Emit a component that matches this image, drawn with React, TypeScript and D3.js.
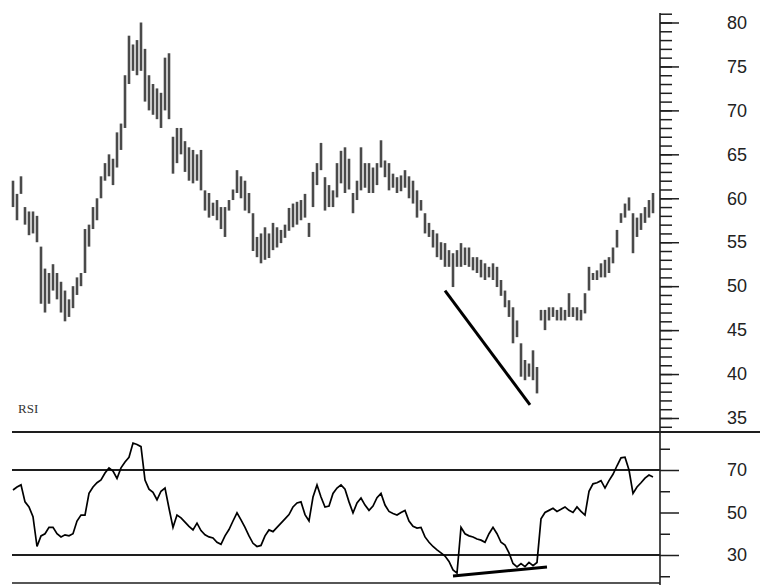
import * as React from "react"
import * as d3 from "d3"

// daily bars (one bar every ~4px)
const priceHigh = [
  62.0, 60.5, 62.5, 59.0, 58.5, 58.5, 58.0, 54.5, 52.0, 51.5,
  52.5, 51.5, 50.5, 49.5, 48.5, 50.0, 51.0, 51.5, 56.5, 57.0,
  59.0, 60.0, 62.5, 64.0, 65.0, 64.5, 67.5, 68.5, 74.0, 78.5,
  77.5, 78.0, 80.0, 77.0, 74.0, 73.0, 72.5, 72.0, 76.0, 76.5,
  67.0, 68.0, 68.0, 66.5, 65.8, 65.5, 65.0, 65.5, 60.9, 60.6,
  59.5, 59.8, 59.0, 59.0, 59.8, 61.0, 63.2, 62.5, 62.0, 60.6,
  58.3, 55.6, 56.0, 56.7, 56.0, 57.2, 56.7, 56.4, 57.0, 58.9,
  59.4, 59.6, 59.8, 60.5, 57.2, 63.0, 64.0, 66.3, 62.4, 61.5,
  60.9, 64.0, 65.4, 65.8, 64.5, 60.6, 62.0, 65.8, 64.0, 64.0,
  63.5, 64.0, 66.6, 64.3, 64.0, 62.8, 62.4, 62.6, 63.2, 62.5,
  62.0, 60.9, 59.8, 58.3, 57.2, 56.4, 56.0, 55.0, 54.9, 54.1,
  53.75, 54.1, 54.9, 54.4, 54.4, 53.3, 53.3, 53.0, 52.6, 52.2,
  52.6, 52.2, 50.7, 49.5, 48.4, 47.6, 46.1, 43.5, 41.6, 41.2,
  42.7, 40.8, 47.3, 47.3, 47.6, 47.6, 47.3, 47.6, 47.3, 49.2,
  47.6, 47.6, 47.3, 49.2, 52.2, 51.5, 51.8, 52.6, 53.0, 53.3,
  54.4, 56.4, 58.3, 59.4, 60.1, 58.3, 57.8, 58.3, 59.0, 59.8, 60.6,
]

const priceLow = [
  59.0, 57.5, 60.5, 57.0, 55.8, 56.0, 55.0, 48.0, 47.0, 48.0,
  49.5, 48.5, 47.0, 46.0, 46.5, 47.5, 49.0, 50.0, 51.5, 54.5,
  56.5, 57.5, 60.0, 62.0, 62.5, 61.5, 63.5, 65.5, 68.0, 73.0,
  74.5, 74.0, 74.5, 71.0, 70.0, 69.5, 69.0, 68.0, 70.0, 69.0,
  62.8, 64.0, 65.0, 63.0, 62.0, 61.7, 62.0, 60.9, 58.6, 57.8,
  58.0, 57.5, 56.5, 55.6, 58.6, 59.8, 60.6, 60.0, 58.6, 58.3,
  54.0, 53.3, 52.6, 53.0, 53.2, 54.1, 54.4, 54.9, 55.5, 56.3,
  56.7, 57.0, 57.5, 57.8, 55.6, 59.0, 61.5, 63.2, 58.6, 59.0,
  59.0, 60.1, 61.7, 60.6, 61.0, 58.3, 59.8, 60.9, 61.2, 60.6,
  60.6, 61.5, 63.5, 62.4, 60.9, 61.2, 60.6, 60.8, 61.2, 60.0,
  59.4, 57.8, 58.6, 56.0, 55.6, 54.4, 53.3, 53.0, 52.2, 52.2,
  49.9, 52.2, 52.2, 52.4, 52.2, 51.8, 51.5, 51.0, 50.7, 51.0,
  50.7, 49.9, 48.9, 47.6, 46.5, 43.5, 44.2, 39.7, 39.3, 39.7,
  39.3, 37.8, 46.1, 45.0, 46.1, 46.5, 46.1, 46.1, 46.1, 46.5,
  46.5, 46.1, 46.1, 46.9, 49.5, 50.7, 50.7, 51.0, 51.0, 51.5,
  52.6, 54.4, 57.2, 57.8, 58.6, 53.75, 55.6, 56.4, 57.2, 57.8, 58.3,
]

const rsiValues = [
  60.6, 62, 63, 55, 52.6, 48, 34, 39, 40, 43,
  43, 40, 38.5, 39.5, 39, 40, 46, 48.8, 48.8, 59,
  62, 64, 65.3, 68.6, 71, 69.5, 66, 71, 73.8, 76,
  82.7, 82, 81, 65.3, 61, 59.5, 56, 60, 61.5, 52,
  43, 48.8, 47.5, 45.5, 43.5, 41.8, 45, 41.5, 39.5, 38.5,
  38, 36, 35, 39, 42, 46, 49.8, 46.5, 43, 39,
  35.5, 34, 34.5, 39, 41.8, 41, 43, 45, 47, 49,
  52.6, 54.5, 55, 49, 46, 57.3, 63, 57.3, 52.6, 53,
  59, 61.5, 63, 61, 55, 49.8, 54.5, 56.8, 53.5, 51,
  53, 57, 59, 53.5, 50.5, 49.5, 48.8, 50, 51, 46,
  43.5, 42.7, 43, 38.5, 36, 34, 32.4, 31, 29.5, 27,
  23, 21.5, 43, 40, 39, 38.5, 37.5, 37, 36, 40,
  43, 40, 36, 34.7, 31, 26, 24.4, 26, 24.5, 26.5,
  25, 26.5, 47, 50, 51, 52, 50.5, 51.5, 52.6, 51,
  50, 52.6, 50.5, 48.8, 60, 63.5, 64, 65, 61.5, 65,
  68, 72, 75.7, 76, 70, 59, 62, 64, 66.2, 67.6, 66.7,
]

const priceTicks = [80, 75, 70, 65, 60, 55, 50, 45, 40, 35]
const priceMinorTicks = d3.range(34, 82)
const rsiTicks = [70, 50, 30]
const rsiMinorTicks = [80, 60, 40, 20]

// drawn trend lines (bar index, value)
const priceTrend: [number, number][] = [
  [108, 49.5],
  [129.25, 36.5],
]
const rsiTrend: [number, number][] = [
  [110, 20.1],
  [133.5, 24.4],
]

const ink = "#1e1e1e"

function render(svgRef: React.RefObject<SVGSVGElement>) {
  const width = 760
  const height = 585
  const axisX = 660
  const left = 12
  const priceTop = 13
  const split = 432
  const bottom = 583

  const svg = d3.select(svgRef.current).attr("width", width).attr("height", height)
  svg.selectAll("*").remove()

  const x = d3
    .scaleLinear()
    .domain([0, priceHigh.length - 1])
    .range([13, 653])
  const yPrice = d3.scaleLinear().domain([35, 80]).range([418, 22.5])
  const yRsi = d3.scaleLinear().domain([30, 70]).range([555, 470])

  // price bars
  svg
    .append("g")
    .selectAll("line")
    .data(priceHigh)
    .join("line")
    .attr("x1", (_d, i) => x(i))
    .attr("x2", (_d, i) => x(i))
    .attr("y1", (d) => yPrice(d))
    .attr("y2", (_d, i) => yPrice(priceLow[i]))
    .attr("stroke", "#4a4a4a")
    .attr("stroke-width", 2.6)

  // price trend line
  svg
    .append("path")
    .attr(
      "d",
      d3
        .line<[number, number]>()
        .x((d) => x(d[0]))
        .y((d) => yPrice(d[1]))(priceTrend)
    )
    .attr("stroke", "#000")
    .attr("stroke-width", 3)
    .attr("fill", "none")

  // panel frame lines
  svg
    .append("line")
    .attr("x1", left)
    .attr("x2", width)
    .attr("y1", split)
    .attr("y2", split)
    .attr("stroke", ink)
    .attr("stroke-width", 2)

  svg
    .append("g")
    .selectAll("line")
    .data([70, 30])
    .join("line")
    .attr("x1", left)
    .attr("x2", axisX)
    .attr("y1", (d) => yRsi(d))
    .attr("y2", (d) => yRsi(d))
    .attr("stroke", ink)
    .attr("stroke-width", 2)

  svg
    .append("line")
    .attr("x1", left)
    .attr("x2", axisX)
    .attr("y1", bottom)
    .attr("y2", bottom)
    .attr("stroke", ink)
    .attr("stroke-width", 1.5)

  svg
    .append("line")
    .attr("x1", axisX)
    .attr("x2", axisX)
    .attr("y1", priceTop)
    .attr("y2", height)
    .attr("stroke", ink)
    .attr("stroke-width", 1.6)

  // price axis
  const priceMinor = svg
    .append("g")
    .attr("transform", `translate(${axisX},0)`)
    .call(
      d3
        .axisRight(yPrice)
        .tickValues(priceMinorTicks)
        .tickSize(12)
        .tickFormat(() => "")
    )
  priceMinor.select(".domain").remove()

  const priceMajor = svg
    .append("g")
    .attr("transform", `translate(${axisX},0)`)
    .call(d3.axisRight(yPrice).tickValues(priceTicks).tickSize(19).tickPadding(48))
  priceMajor.select(".domain").remove()

  // rsi axis
  const rsiMinor = svg
    .append("g")
    .attr("transform", `translate(${axisX},0)`)
    .call(
      d3
        .axisRight(yRsi)
        .tickValues(rsiMinorTicks)
        .tickSize(10)
        .tickFormat(() => "")
    )
  rsiMinor.select(".domain").remove()

  const rsiMajor = svg
    .append("g")
    .attr("transform", `translate(${axisX},0)`)
    .call(d3.axisRight(yRsi).tickValues(rsiTicks).tickSize(19).tickPadding(48))
  rsiMajor.select(".domain").remove()

  svg.selectAll(".tick line").attr("stroke", ink).attr("stroke-width", 1.5)
  svg
    .selectAll(".tick text")
    .attr("fill", "#222")
    .attr("font-size", "18px")
    .attr("font-family", "'Liberation Sans', Arial, sans-serif")

  // rsi line
  svg
    .append("path")
    .attr(
      "d",
      d3
        .line<number>()
        .x((_d, i) => x(i))
        .y((d) => yRsi(d))(rsiValues)
    )
    .attr("stroke", "#000")
    .attr("stroke-width", 1.7)
    .attr("fill", "none")

  svg
    .append("path")
    .attr(
      "d",
      d3
        .line<[number, number]>()
        .x((d) => x(d[0]))
        .y((d) => yRsi(d[1]))(rsiTrend)
    )
    .attr("stroke", "#000")
    .attr("stroke-width", 3)
    .attr("fill", "none")

  svg
    .append("text")
    .attr("x", 18)
    .attr("y", 413)
    .attr("font-size", "13px")
    .attr("font-family", "'Liberation Serif', 'DejaVu Serif', serif")
    .attr("fill", "#333")
    .text("RSI")
}

export default function App(): React.JSX.Element {
  const svg = React.useRef<SVGSVGElement>(null)

  React.useEffect(() => {
    render(svg)
  }, [])

  return (
    <div style={{ position: "absolute", left: 0, top: 0, background: "#fff" }}>
      <svg ref={svg} style={{ display: "block" }}></svg>
    </div>
  )
}
